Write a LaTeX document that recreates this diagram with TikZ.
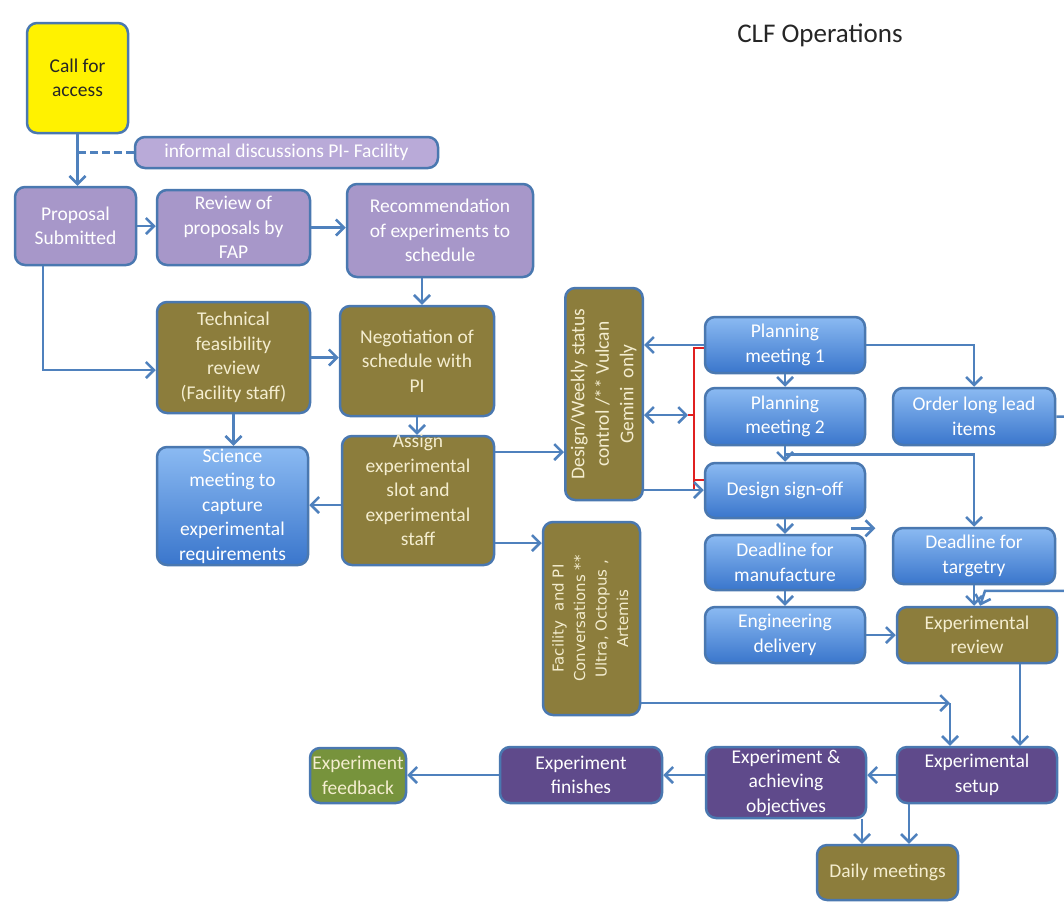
\documentclass[tikz,border=0pt]{standalone}
\usepackage{fontspec}
\setmainfont{Carlito}
\newfontfamily\dvfont{DejaVu Sans}
\usetikzlibrary{arrows.meta}
\definecolor{bord}{HTML}{4A78B0}
\definecolor{arrc}{HTML}{4F81BD}
\definecolor{lav}{HTML}{A797C9}
\definecolor{lavlt}{HTML}{B9AAD8}
\definecolor{olivec}{HTML}{8C7D3C}
\definecolor{dpur}{HTML}{5F4A8B}
\definecolor{grn}{HTML}{77933C}
\definecolor{bluetop}{HTML}{8BBAF2}
\definecolor{bluebot}{HTML}{3A76CC}
\definecolor{cream}{HTML}{F4EDCF}
\definecolor{bracketred}{HTML}{E02020}
\begin{document}
\begin{tikzpicture}[x=1pt,y=-1pt,
  boxfont/.style={font=\fontsize{19.5}{24.5}\selectfont},
  box/.style={draw=bord, line width=2.5pt, rounded corners=10pt, align=center, inner sep=2pt, boxfont},
  sz/.style 2 args={minimum width=#1pt, minimum height=#2pt},
  lavbox/.style={box, fill=lav, text=white},
  olbox/.style={box, fill=olivec, text=cream},
  bluebox/.style={box, top color=bluetop, bottom color=bluebot, text=white},
  purbox/.style={box, fill=dpur, text=white},
  arr/.style={draw=arrc, line width=2.5pt, -{Straight Barb[length=8pt,width=16pt]}},
  arrboth/.style={draw=arrc, line width=2.5pt, {Straight Barb[length=8pt,width=16pt]}-{Straight Barb[length=8pt,width=16pt]}},
  plain/.style={draw=arrc, line width=2.5pt},
  dashline/.style={draw=arrc, line width=3pt, dash pattern=on 8pt off 4pt},
  redline/.style={draw=bracketred, line width=2.5pt}
]
\fill[white] (0,0) rectangle (1064,906);
\useasboundingbox (0,0) rectangle (1064,906);

% title
\node[font=\fontsize{27}{31}\selectfont, text=black!85] (title) at (820,35) {CLF Operations};

% nodes
\node[box, fill=yellow, text=black!85, sz={101}{110}] (call) at (77.5,78) {Call for\\access};
\node[box, fill=lavlt, text=white, sz={303}{31}, inner sep=0pt] (inf) at (286.5,152.5) {informal discussions PI- Facility};
\node[lavbox, sz={121}{78}] (prop) at (75.5,226) {Proposal\\Submitted};
\node[lavbox, sz={153}{75}] (rev) at (233.5,227.5) {Review of\\proposals by\\FAP};
\node[lavbox, sz={186}{93}] (rec) at (440,230.5) {Recommendation\\of experiments to\\schedule};
\node[olbox, sz={153}{111}] (tech) at (233.5,357.5) {Technical\\feasibility\\review\\(Facility staff)};
\node[olbox, sz={154}{110}] (neg) at (417,361) {Negotiation of\\schedule with\\PI};
\node[bluebox, sz={151}{118}, inner sep=0pt] (sci) at (232.5,506) {Science\\meeting to\\capture\\experimental\\requirements};
\node[olbox, sz={152}{129}] (assign) at (418,500.5) {};
\node[boxfont, text=cream, align=center] (assigntxt) at (418,490) {Assign\\experimental\\slot and\\experimental\\staff};
\node[olbox, sz={72}{212}] (design) at (604,394) {\rotatebox{90}{\begin{tabular}{@{}c@{}}Design/Weekly status\\control /** Vulcan\\Gemini~~only\end{tabular}}};
\node[olbox, sz={97}{193}] (fac) at (591.5,618.5) {\rotatebox{90}{\dvfont\fontsize{15}{21.5}\selectfont\begin{tabular}{@{}c@{}}Facility~~and PI\\Conversations **\\Ultra, Octopus ,\\Artemis\end{tabular}}};
\node[bluebox, sz={160}{56}] (pm1) at (785,345) {Planning\\meeting 1};
\node[bluebox, sz={160}{57}] (pm2) at (785,416.5) {Planning\\meeting 2};
\node[bluebox, sz={160}{55}] (dso) at (785,490.5) {Design sign-off};
\node[bluebox, sz={160}{55}] (dfm) at (785,562.5) {Deadline for\\manufacture};
\node[bluebox, sz={160}{56}] (eng) at (785,635) {Engineering\\delivery};
\node[bluebox, sz={162}{57}] (oll) at (974,416.5) {Order long lead\\items};
\node[bluebox, sz={162}{56}] (dft) at (974,556) {Deadline for\\targetry};
\node[olbox, sz={160}{56}] (erev) at (977,635) {Experimental\\review};
\node[purbox, sz={160}{56}] (setup) at (977,775) {Experimental\\setup};
\node[purbox, sz={160}{71}] (exp) at (786,782.5) {Experiment \&\\achieving\\objectives};
\node[purbox, sz={162}{56}] (fin) at (581,775) {Experiment\\finishes};
\node[box, fill=grn, text=cream, sz={96}{55}] (feed) at (358,775.5) {Experiment\\feedback};
\node[olbox, sz={141}{55}] (daily) at (887.5,872.5) {Daily meetings};

% connectors, top area
\draw[arr] (call.south) -- (call.south |- prop.north);
\draw[dashline] (inf.west) -- (inf.west -| call.south);
\draw[arr] (prop.east) -- (prop.east -| rev.west);
\draw[arr] (rev.east) -- (rev.east -| rec.west);
\draw[arr] ([xshift=5pt]neg.north |- rec.south) -- ([xshift=5pt]neg.north);
\draw[arr] ([xshift=-32.5pt]prop.south) |- ([yshift=-12.5pt]tech.west);
\draw[arr] (tech.east) -- (tech.east -| neg.west);
\draw[arr] (tech.south) -- (tech.south |- sci.north);
\draw[arr] (neg.south) -- (neg.south |- assign.north);
\draw[arr] ([yshift=-4.5pt]assign.west) -- ([yshift=-4.5pt]assign.west -| sci.east);
\draw[arr] ([yshift=48.5pt]assign.east) -- ([yshift=48.5pt]assign.east -| design.west);
\draw[arr] ([yshift=-42.5pt]assign.east) -- ([yshift=-42.5pt]assign.east -| fac.west);

% design / planning block
\draw[arr] (pm1.west) -- (pm1.west -| design.east);
\coordinate (bm) at (688,415);
\draw[arrboth] (bm) -- (bm -| design.east);
\draw[redline] ([yshift=-3pt]pm1.west) -- ++(-10,0) coordinate (rtop) -- (rtop |- dso.west) -- ++(0,-10.5) -- ([yshift=10.5pt]dso.west);
\draw[redline] (rtop |- bm) -- (bm);
\draw[arr] ([yshift=-96pt]design.east) -- ([yshift=-96pt]design.east -| dso.west);
\draw[arr] (pm1.south) -- (pm2.north);
\draw[arr] (pm1.east) -| (oll.north);
\draw[arr] (pm2.south) -- (dso.north);
\draw[arr] ([yshift=-8pt]pm2.south) -| (dft.north);
\draw[arr] ([xshift=-15pt,yshift=-9pt]dso.south east) -- ([xshift=9pt,yshift=-9pt]dso.south east);
\draw[arr] (dso.south) -- (dfm.north);
\draw[arr] (dfm.south) -- (eng.north);
\draw[arr] (eng.east) -- (eng.east -| erev.west);
\draw[arr] (dft.south) -- (dft.south |- erev.north);
\draw[arr] (oll.east) -- ++(30,0) |- ([xshift=8pt,yshift=15pt]erev.north) -- ([xshift=3pt]erev.north);

% lower part
\coordinate (fc) at (950,703);
\draw[arr] ([yshift=-84.5pt]fac.east) -- (fc);
\draw[arr] (fc) -- (fc |- setup.north);
\draw[arr] ([xshift=43pt]erev.south) -- ([xshift=43pt]erev.south |- setup.north);
\draw[arr] (setup.west) -- (setup.west -| exp.east);
\draw[arr] (fin.east -| exp.west) -- (fin.east);
\draw[arr] (fin.west) -- (fin.west -| feed.east);
\draw[arr] ([xshift=76pt]exp.south) -- ([xshift=76pt]exp.south |- daily.north);
\draw[arr] ([xshift=-68pt]setup.south) -- ([xshift=-68pt]setup.south |- daily.north);
\end{tikzpicture}
\end{document}
